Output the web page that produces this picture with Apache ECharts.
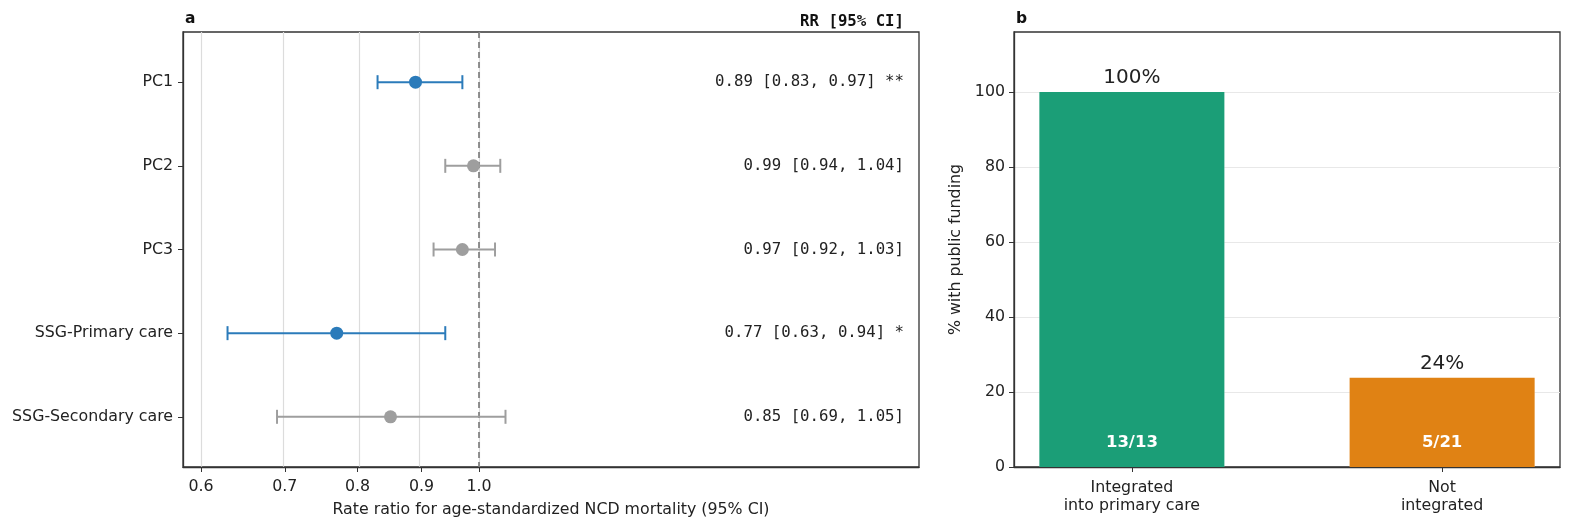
<!DOCTYPE html>
<html>
<head>
<meta charset="utf-8">
<script src="https://cdn.jsdelivr.net/npm/echarts@6/dist/echarts.min.js"></script>
<style>
  html, body { margin: 0; padding: 0; background: #fff; }
  #main { width: 1570px; height: 526px; }
</style>
</head>
<body>
<div id="main"></div>
<script>
// panel a: forest plot
var rowNames = ['PC1', 'PC2', 'PC3', 'SSG-Primary care', 'SSG-Secondary care'];
var rrValues = [0.89, 0.99, 0.97, 0.77, 0.85];
var ciLower = [0.83, 0.94, 0.92, 0.63, 0.69];
var ciUpper = [0.97, 1.04, 1.03, 0.94, 1.05];
var sigStars = ['**', '', '', '*', ''];
var rrTicks = [0.6, 0.7, 0.8, 0.9, 1.0];

// panel b: bars
var barCategories = ['Integrated\ninto primary care', 'Not\nintegrated'];
var fundedPct = [100, 23.8];
var pctLabels = ['100%', '24%'];
var countLabels = ['13/13', '5/21'];
var pctTicks = [0, 20, 40, 60, 80, 100];

var FONT = 'DejaVu Sans';
var MONO = 'DejaVu Sans Mono';
var BLUE = '#2b7bba';
var GREY = '#9e9e9e';
var TXT = '#222';
var FS = 15.8;

function colorOf(i) {
  return ciUpper[i] < 1 ? BLUE : GREY;
}

var chart = echarts.init(document.getElementById('main'));

var errData = [], pointData = [], textData = [];
rowNames.forEach(function (n, i) {
  errData.push([Math.log(ciLower[i]), i, Math.log(ciUpper[i])]);
  pointData.push({ value: [Math.log(rrValues[i]), i], itemStyle: { color: colorOf(i), opacity: 1 } });
  textData.push([0, i]);
});

var barData = fundedPct.map(function (v, i) {
  return { value: [i, v], itemStyle: { color: i == 0 ? '#1b9e77' : '#e08214' } };
});

var axisLineStyle = { show: true, onZero: false, lineStyle: { color: '#333', width: 1.3 } };

var option = {
  backgroundColor: '#fff',
  animation: false,
  textStyle: { fontFamily: FONT },
  title: [
    { text: 'a', left: 180, top: 6, textStyle: { fontFamily: FONT, fontSize: 15.5, fontWeight: 'bold', color: '#111' } },
    { text: 'b', left: 1011, top: 6, textStyle: { fontFamily: FONT, fontSize: 15.5, fontWeight: 'bold', color: '#111' } }
  ],
  graphic: [
    {
      type: 'text', right: 1570 - 904, top: 14,
      style: { text: 'RR [95% CI]', font: 'bold 15.7px ' + MONO, fill: '#111' }
    }
  ],
  grid: [
    { left: 183, right: 651, top: 32, bottom: 59, show: true, borderColor: '#333', borderWidth: 1.3, outerBoundsMode: 'none' },
    { left: 1014, right: 10, top: 32, bottom: 59, show: true, borderColor: '#333', borderWidth: 1.3, outerBoundsMode: 'none' }
  ],
  xAxis: [
    {
      type: 'value', gridIndex: 0,
      min: Math.log(0.5805), max: Math.log(2.245),
      name: 'Rate ratio for age-standardized NCD mortality (95% CI)',
      nameLocation: 'middle', nameGap: 35,
      nameTextStyle: { fontFamily: FONT, fontSize: FS, color: TXT },
      axisLine: axisLineStyle,
      axisTick: { show: true, length: 5, lineStyle: { color: '#333' }, customValues: rrTicks.map(Math.log) },
      axisLabel: {
        fontFamily: FONT, fontSize: FS, color: TXT, margin: 12,
        customValues: rrTicks.map(Math.log),
        formatter: function (v) { return Math.exp(v).toFixed(1); }
      },
      splitLine: { show: false }
    },
    {
      type: 'value', gridIndex: 1,
      min: -0.38, max: 1.38,
      axisLine: axisLineStyle,
      axisTick: { show: true, length: 5, lineStyle: { color: '#333' }, customValues: [0, 1] },
      axisLabel: {
        fontFamily: FONT, fontSize: FS, color: TXT, margin: 12, lineHeight: 18,
        customValues: [0, 1],
        formatter: function (v) { return barCategories[Math.round(v)]; }
      },
      splitLine: { show: false }
    }
  ],
  yAxis: [
    {
      type: 'value', gridIndex: 0, inverse: true,
      min: -0.6, max: 4.6,
      axisLine: axisLineStyle,
      axisTick: { show: true, length: 5, lineStyle: { color: '#333' }, customValues: [0, 1, 2, 3, 4] },
      axisLabel: {
        fontFamily: FONT, fontSize: FS, color: TXT, margin: 10,
        customValues: [0, 1, 2, 3, 4],
        formatter: function (v) { return rowNames[Math.round(v)]; }
      },
      splitLine: { show: false }
    },
    {
      type: 'value', gridIndex: 1,
      min: 0, max: 116,
      name: '% with public funding',
      nameLocation: 'middle', nameGap: 50,
      nameTextStyle: { fontFamily: FONT, fontSize: FS, color: TXT },
      axisLine: axisLineStyle,
      axisTick: { show: true, length: 5, lineStyle: { color: '#333' }, customValues: pctTicks },
      axisLabel: { fontFamily: FONT, fontSize: FS, color: TXT, margin: 9, customValues: pctTicks },
      splitLine: { show: false }
    }
  ],
  series: [
    // vertical grid lines
    {
      type: 'line', xAxisIndex: 0, yAxisIndex: 0, data: [], silent: true, z: 0,
      markLine: {
        z: 0, symbol: 'none', silent: true, label: { show: false },
        data: rrTicks.map(function (t) {
          return { xAxis: Math.log(t), lineStyle: { color: '#dcdcdc', width: 1.2, type: 'solid' } };
        })
      }
    },
    // reference line at RR = 1
    {
      type: 'line', xAxisIndex: 0, yAxisIndex: 0, data: [], silent: true,
      markLine: {
        z: 2, symbol: 'none', silent: true, label: { show: false },
        data: [{ xAxis: 0, lineStyle: { color: '#777', width: 1.6, type: [6, 4] } }]
      }
    },
    // horizontal grid lines in panel b
    {
      type: 'line', xAxisIndex: 1, yAxisIndex: 1, data: [], silent: true, z: 0,
      markLine: {
        z: 0, symbol: 'none', silent: true, label: { show: false },
        data: pctTicks.slice(1).map(function (t) {
          return { yAxis: t, lineStyle: { color: '#e8e8e8', width: 1.2, type: 'solid' } };
        })
      }
    },
    {
      type: 'custom', xAxisIndex: 0, yAxisIndex: 0, z: 3,
      data: errData,
      encode: { x: [0, 2], y: 1 },
      renderItem: function (params, api) {
        var row = api.value(1);
        var p1 = api.coord([api.value(0), row]);
        var p2 = api.coord([api.value(2), row]);
        var c = colorOf(params.dataIndex);
        var st = { stroke: c, lineWidth: 2 };
        return {
          type: 'group',
          children: [
            { type: 'line', shape: { x1: p1[0], y1: p1[1], x2: p2[0], y2: p2[1] }, style: st },
            { type: 'line', shape: { x1: p1[0], y1: p1[1] - 7, x2: p1[0], y2: p1[1] + 7 }, style: st },
            { type: 'line', shape: { x1: p2[0], y1: p2[1] - 7, x2: p2[0], y2: p2[1] + 7 }, style: st }
          ]
        };
      }
    },
    {
      type: 'scatter', xAxisIndex: 0, yAxisIndex: 0, z: 4,
      symbol: 'circle', symbolSize: 13,
      itemStyle: { opacity: 1 },
      data: pointData
    },
    // RR [95% CI] text column
    {
      type: 'custom', xAxisIndex: 0, yAxisIndex: 0, z: 5,
      data: textData,
      renderItem: function (params, api) {
        var i = params.dataIndex;
        var y = api.coord([0, api.value(1)])[1];
        var cs = params.coordSys;
        var s = rrValues[i].toFixed(2) + ' [' + ciLower[i].toFixed(2) + ', ' + ciUpper[i].toFixed(2) + ']';
        if (sigStars[i]) s += ' ' + sigStars[i];
        return {
          type: 'text',
          style: { x: cs.x + cs.width - 15, y: y, text: s, align: 'right', verticalAlign: 'middle', font: '15.7px ' + MONO, fill: TXT }
        };
      }
    },
    {
      type: 'bar', xAxisIndex: 1, yAxisIndex: 1, z: 3,
      barWidth: 185,
      data: barData,
      itemStyle: { borderColor: 'rgba(255,255,255,0.6)', borderWidth: 1 },
      label: {
        show: true, position: 'top', distance: 4,
        fontFamily: FONT, fontSize: 20, color: TXT,
        formatter: function (p) { return pctLabels[p.dataIndex]; }
      }
    },
    {
      type: 'bar', xAxisIndex: 1, yAxisIndex: 1, z: 4,
      barWidth: 185, barGap: '-100%',
      data: barData,
      itemStyle: { color: 'transparent' },
      label: {
        show: true, position: 'insideBottom', distance: 16,
        fontFamily: FONT, fontSize: 16.5, fontWeight: 'bold', color: '#fff',
        formatter: function (p) { return countLabels[p.dataIndex]; }
      }
    }
  ]
};

chart.setOption(option);
</script>
</body>
</html>
